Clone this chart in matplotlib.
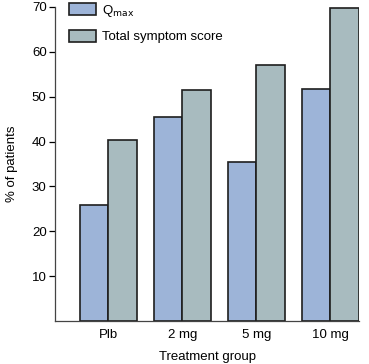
import matplotlib
matplotlib.use("Agg")
import matplotlib.pyplot as plt
import numpy as np

plt.rcParams['font.family'] = ['Liberation Sans', 'DejaVu Sans']

categories = ["Plb", "2 mg", "5 mg", "10 mg"]
qmax = [25.8, 45.5, 35.4, 51.8]
total_score = [40.3, 51.5, 57.1, 69.8]
series_labels = [r"Q$_{\mathrm{max}}$", "Total symptom score"]
yticks = [10, 20, 30, 40, 50, 60, 70]

fig = plt.figure(figsize=(3.69, 3.64), dpi=100)
ax = fig.add_axes([0.149, 0.118, 0.824, 0.863])

x = np.arange(len(categories))
w = 0.385
ax.bar(x - w/2, qmax, w, color="#9db4d8", edgecolor="#1e1e1e", linewidth=1.2, label=series_labels[0])
ax.bar(x + w/2, total_score, w, color="#a8bbbf", edgecolor="#1e1e1e", linewidth=1.2, label=series_labels[1])

ax.set_xlim(-0.72, 3.39)
ax.set_ylim(0, 70)
ax.set_yticks(yticks)
ax.set_xticks(x)
ax.set_xticklabels(categories, fontsize=9.5)
ax.tick_params(axis='x', length=0, pad=6)
ax.tick_params(axis='y', length=4.5, width=0.9, labelsize=9.5, pad=1.5)
for s in ['top', 'right']:
    ax.spines[s].set_visible(False)
ax.spines['left'].set_color('#444444')
ax.spines['bottom'].set_color('#444444')
ax.spines['left'].set_linewidth(0.9)
ax.spines['bottom'].set_linewidth(0.9)
ax.set_ylabel("% of patients", fontsize=9.5, labelpad=10)
ax.set_xlabel("Treatment group", fontsize=9.5, labelpad=7)

ax.legend(loc='upper left', bbox_to_anchor=(0.03, 1.03), frameon=False, fontsize=9.5,
          handlelength=2.0, handleheight=1.0, labelspacing=0.85, handletextpad=0.45,
          borderaxespad=0)

fig.savefig("out.png", dpi=100)
